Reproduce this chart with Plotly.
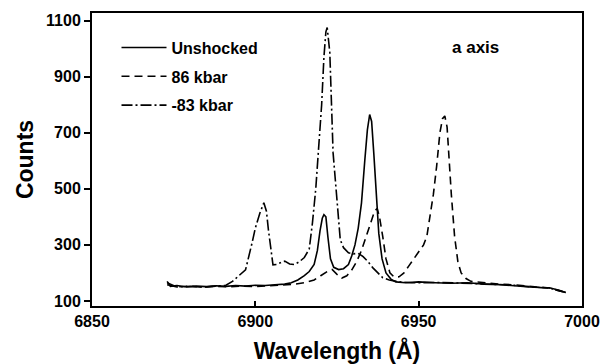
import plotly.graph_objects as go

# ---- data ----
unshocked_x = [6873, 6874, 6876, 6879, 6882, 6885, 6888, 6891, 6894, 6897, 6900, 6903, 6906, 6909,
               6911, 6913, 6915, 6916.5, 6918, 6919, 6919.8, 6920.5, 6921, 6921.6, 6922.2, 6923,
               6924, 6925.5, 6927, 6928.5, 6929.5, 6930.5, 6931.5, 6932.5, 6933.5, 6934.3, 6935,
               6935.6, 6936.3, 6937, 6937.8, 6938.8, 6940, 6941.5, 6943, 6946, 6950, 6955, 6960,
               6965, 6970, 6975, 6980, 6984, 6987, 6990, 6993, 6995]
unshocked_y = [170, 152, 155, 150, 153, 151, 154, 152, 155, 153, 156, 155, 158, 160,
               165, 175, 190, 205, 230, 280, 350, 395, 408, 400, 330, 250,
               220, 212, 215, 230, 260, 300, 360, 450, 600, 710, 765,
               740, 620, 470, 340, 250, 200, 178, 168, 165, 168, 165, 163,
               165, 160, 158, 155, 150, 148, 147, 138, 130]

kbar86_x = [6873, 6876, 6880, 6884, 6888, 6892, 6896, 6900, 6904, 6908, 6912, 6915, 6918, 6920,
            6922, 6923.5, 6925, 6926.5, 6928, 6929.5, 6931, 6932.5, 6934, 6935.5, 6936.5, 6937.3,
            6938, 6939, 6940, 6941.2, 6942.5, 6944, 6945.5, 6947, 6948.5, 6950, 6951.5, 6952.5,
            6953.5, 6954.5, 6955.5, 6956.5, 6957.3, 6958, 6958.7, 6959.3, 6960, 6961, 6962, 6963,
            6964.5, 6966, 6970, 6975, 6980, 6985, 6990, 6995]
kbar86_y = [165, 150, 153, 149, 152, 150, 153, 151, 154, 156, 160, 165, 175, 190,
            205, 212, 195, 182, 190, 210, 240, 280, 330, 385, 420, 430,
            400, 330, 250, 200, 185, 186, 200, 225, 250, 275, 300, 330,
            400, 480, 580, 700, 750, 760, 720, 600, 480, 330, 240, 200,
            180, 170, 165, 160, 157, 152, 146, 130]

kbarm83_x = [6873, 6876, 6880, 6884, 6888, 6891, 6893, 6895, 6897, 6899, 6900, 6901.4, 6902.6,
             6903.4, 6904, 6905.4, 6906.5, 6908, 6909, 6910.5, 6912, 6913.5, 6915, 6916.5, 6917.5,
             6918.5, 6919.5, 6920.3, 6921, 6921.6, 6922, 6922.8, 6923.8, 6924.4, 6925.2, 6926,
             6927, 6928.5, 6930, 6931.5, 6933, 6934.5, 6936, 6937.5, 6939, 6941, 6944, 6948,
             6955, 6962, 6970, 6978, 6985, 6990, 6995]
kbarm83_y = [158, 150, 152, 149, 153, 156, 170, 190, 211, 307, 360, 414, 450,
             420, 354, 229, 230, 238, 242, 232, 230, 240, 255, 285, 380,
             500, 650, 800, 970, 1060, 1075, 986, 629, 540, 420, 318,
             290, 272, 268, 270, 258, 240, 218, 200, 183, 175, 168, 165,
             166, 164, 160, 157, 150, 146, 130]

x_ticks = [6850, 6900, 6950, 7000]
y_ticks = [100, 300, 500, 700, 900, 1100]

FONT = "Liberation Sans, Arial, sans-serif"

fig = go.Figure()
fig.add_trace(go.Scatter(x=unshocked_x, y=unshocked_y, mode="lines", name="Unshocked",
                         legendgroup="a", line=dict(color="black", width=1.6, dash="solid")))
fig.add_trace(go.Scatter(x=kbar86_x, y=kbar86_y, mode="lines", name="86 kbar",
                         legendgroup="b", line=dict(color="black", width=1.6, dash="8px,5px")))
fig.add_trace(go.Scatter(x=kbarm83_x, y=kbarm83_y, mode="lines", name="-83 kbar",
                         legendgroup="c", line=dict(color="black", width=1.6,
                                                    dash="11px,3px,2px,3px")))

fig.add_annotation(x=6959.5, y=1003, text="a axis", showarrow=False, xanchor="left",
                   font=dict(family=FONT, size=17, color="black", weight="bold"))

fig.update_layout(
    width=603, height=364,
    margin=dict(l=92, r=21, t=13, b=58),
    paper_bgcolor="white", plot_bgcolor="white",
    showlegend=True,
    legend=dict(x=0.05, y=0.94, xanchor="left", yanchor="top", bgcolor="rgba(0,0,0,0)",
                font=dict(family=FONT, size=16, color="black", weight="bold"),
                tracegroupgap=5, itemwidth=45),
    font=dict(family=FONT, color="black"),
)
fig.update_xaxes(range=[6850, 7000], tickvals=x_ticks, ticks="inside", ticklen=5, tickwidth=1.5,
                 tickcolor="black", showline=True, linecolor="black", linewidth=2, mirror=True,
                 showgrid=False, zeroline=False, automargin=False,
                 tickfont=dict(family=FONT, size=16, color="black", weight="bold"),
                 title=dict(text="Wavelength (Å)", standoff=14,
                            font=dict(family=FONT, size=23, color="black", weight="bold")))
fig.update_yaxes(range=[82, 1127], tickvals=y_ticks, ticks="outside", ticklen=6, tickwidth=1.5,
                 tickcolor="black", showline=True, linecolor="black", linewidth=2, mirror=True,
                 showgrid=False, zeroline=False, automargin=False,
                 tickfont=dict(family=FONT, size=16, color="black", weight="bold"),
                 title=dict(text="Counts", standoff=6,
                            font=dict(family=FONT, size=23, color="black", weight="bold")))

fig.write_html("out.html")
